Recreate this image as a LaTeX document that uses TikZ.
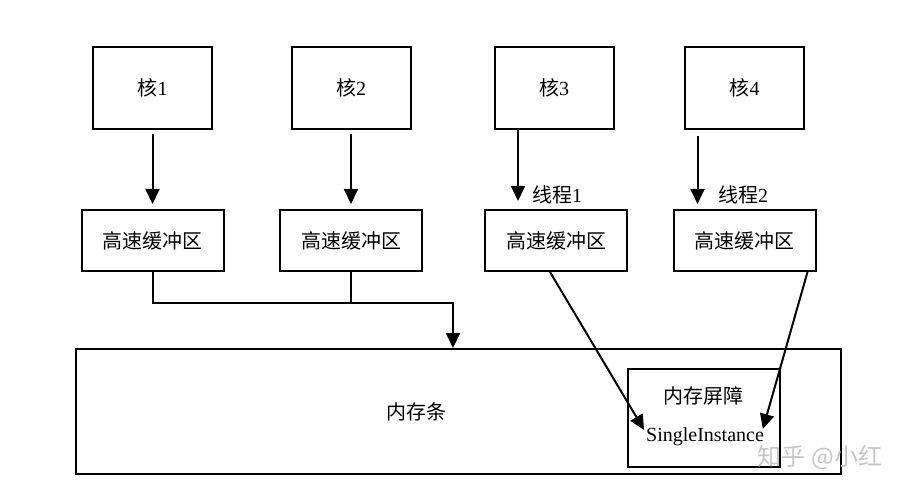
\documentclass[tikz,border=0pt]{standalone}
\usepackage{fontspec}
\setmainfont{Liberation Serif}
\newfontfamily\cjk{Noto Sans CJK SC}
\usetikzlibrary{arrows.meta,positioning}

\begin{document}
\begin{tikzpicture}[x=1pt, y=-1pt, >={Triangle[length=15pt,width=14pt]}, node distance=79pt, line width=2pt, font=\fontsize{20}{24}\selectfont]
  \tikzstyle{core}=[draw, minimum width=119pt, minimum height=82pt, inner sep=0pt]
  \tikzstyle{cache}=[draw, minimum width=142pt, minimum height=61pt, inner sep=0pt]
  \tikzstyle{txt}=[inner sep=1pt]
  \useasboundingbox (0,0) rectangle (903,492);
  % cores and their buffers
  \node[core] (core1) at (152.5,88) {{\cjk 核}1};
  \node[core] (core2) at (351,88) {{\cjk 核}2};
  \node[core] (core3) at (554,88) {{\cjk 核}3};
  \node[core] (core4) at (744.5,88) {{\cjk 核}4};
  \node[cache, below=of core1] (cache1) {\cjk 高速缓冲区};
  \node[cache, below=of core2] (cache2) {\cjk 高速缓冲区};
  \node[cache, below=of core3, xshift=2pt] (cache3) {\cjk 高速缓冲区};
  \node[cache, below=of core4] (cache4) {\cjk 高速缓冲区};
  \draw[->, shorten <=4pt, shorten >=5pt] (core1.south) -- (core1.south |- cache1.north);
  \draw[->, shorten <=4pt, shorten >=5pt] (core2.south) -- (core2.south |- cache2.north);
  \draw[->, shorten >=8pt] ([xshift=-36pt]core3.south) -- ([xshift=-36pt]core3.south |- cache3.north);
  \draw[->, shorten <=6pt, shorten >=5pt] ([xshift=-47pt]core4.south) -- ([xshift=-47pt]core4.south |- cache4.north);
  \node[txt] (thread1) at (557,195) {{\cjk 线程}1};
  \node[txt] (thread2) at (743,195) {{\cjk 线程}2};
  % memory
  \node[draw, minimum width=765pt, minimum height=125pt] (mem) at (458.5,411.5) {};
  \node[txt] (memtext) at (416,412) {\cjk 内存条};
  \node[draw, minimum width=152pt, minimum height=98pt] (barrier) at (704,418) {};
  \node[txt] (bartext) at (703,396) {\cjk 内存屏障};
  \node[txt] (single) at (705,437) {SingleInstance};
  \coordinate (join) at (453,303);
  \draw[->] (cache1.south) |- (join) -- (join |- mem.north);
  \draw (cache2.south) -- (cache2.south |- join);
  \draw[->] ([xshift=-6pt]cache3.south) -- ([yshift=7pt]single.west);
  \draw[->] ([xshift=63pt]cache4.south) -- ([xshift=-3pt,yshift=8pt]single.east);
  \node[text=gray!45, font=\cjk\fontsize{24}{26}\selectfont] (mark) at (820,457) {知乎 @小红};
\end{tikzpicture}
\end{document}
